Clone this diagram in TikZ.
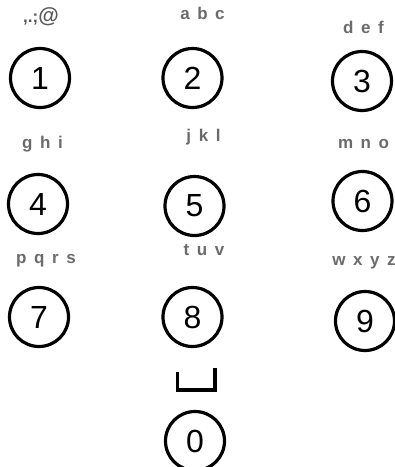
\documentclass[tikz,border=0pt]{standalone}
\usepackage{fontspec}
\setmainfont{Liberation Sans}
\newfontfamily\ltrfont[WordSpace=1.6]{Liberation Sans}
\usetikzlibrary{positioning}
\tikzset{
  key/.style={circle,draw=black,fill=white,minimum size=59pt,inner sep=0pt,line width=3.2pt,
    font=\fontsize{32}{32}\selectfont},
  ltr/.style={anchor=base,text=black!58,inner sep=0pt,font=\ltrfont\bfseries\fontsize{17}{17}\selectfont},
  spc/.style={draw=black,line width=3.5pt,line join=miter},
}
\begin{document}
\begin{tikzpicture}[x=1pt,y=-1pt]
\useasboundingbox (0,0) rectangle (395,467);
% top row
\node[key] (k1) at (40,78) {1};
\node[key] (k2) at (192.5,78) {2};
\node[key] (k3) at (362,81) {3};
\node[ltr,text=black!65] (l1) at (41,22) {,.;{\fontsize{21}{21}\selectfont @}};
\node[ltr] (l2) at (202.5,19) {a b c};
\node[ltr] (l3) at (363.5,33) {d e f};
% middle row
\node[key] (k4) at (38,204) {4};
\node[key] (k5) at (194.5,206) {5};
\node[key] (k6) at (362.5,201) {6};
\node[ltr] (l4) at (42.5,148) {g h i};
\node[ltr] (l5) at (203.5,141.5) {j k l};
\node[ltr] (l6) at (363.5,148) {m n o};
% bottom row
\node[key] (k7) at (39,317) {7};
\node[key] (k8) at (192.5,317) {8};
\node[key] (k9) at (365,321) {9};
\node[ltr] (l7) at (46,263) {p q r s};
\node[ltr] (l8) at (204,255) {t u v};
\node[ltr] (l9) at (364,265) {w x y z};
% space key
\draw[spc] (177.5,372) -- (177.5,390) -- (215,390) -- (215,368);
\node[key] (k0) at (195,441) {0};
\end{tikzpicture}
\end{document}
